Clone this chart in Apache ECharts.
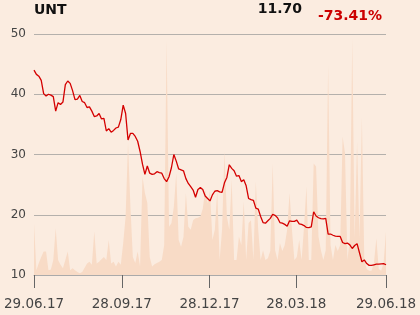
<!DOCTYPE html>
<html>
<head>
<meta charset="utf-8">
<script src="https://cdn.jsdelivr.net/npm/echarts@6/dist/echarts.min.js"></script>
<style>
html,body{margin:0;padding:0;background:#fbece0;}
#c{width:420px;height:315px;}
</style>
</head>
<body>
<div id="c"></div>
<script>
// Sampling: one observation every 2.5 days from 29.06.17 to 29.06.18
const startDate = '2017-06-29';
const stepDays = 2.5;

const price = [
44.0,43.3,43.0,42.3,40.1,39.7,40.0,39.85,39.6,37.2,
38.6,38.3,38.7,41.6,42.2,41.8,40.6,39.1,39.2,39.8,
38.8,38.6,37.8,37.9,37.2,36.3,36.4,36.8,35.9,36.0,
33.9,34.3,33.7,34.0,34.4,34.55,35.8,38.2,36.8,32.4,
33.5,33.5,33.0,32.2,30.5,28.4,26.7,28.1,26.9,26.7,
26.8,27.15,27.0,26.9,26.0,25.5,26.3,27.8,30.0,28.9,
27.6,27.45,27.3,26.0,25.2,24.65,24.1,22.9,24.2,24.5,
24.2,23.1,22.7,22.3,23.3,23.9,24.0,23.8,23.7,25.3,
26.2,28.3,27.7,27.3,26.4,26.5,25.5,25.8,24.8,22.7,
22.5,22.4,21.1,20.95,19.7,18.7,18.6,19.0,19.4,20.05,
19.9,19.5,18.7,18.6,18.4,18.1,19.0,18.9,18.9,19.1,
18.5,18.4,18.2,17.9,17.85,18.0,20.5,19.8,19.5,19.35,
19.3,19.4,16.8,16.8,16.6,16.45,16.4,16.4,15.4,15.2,
15.3,15.0,14.4,14.9,15.2,13.7,12.2,12.5,11.9,11.6,
11.6,11.7,11.8,11.8,11.85,11.9,11.7
];

const volume = [
8.6,0.8,2.0,3.0,3.9,3.9,0.8,0.9,2.5,7.75,
2.5,1.7,1.1,2.5,3.9,0.8,1.1,0.8,0.5,0.3,
0.5,1.2,1.9,2.2,1.7,7.2,1.9,2.2,2.6,3.0,
2.5,5.8,1.9,2.2,1.4,2.2,1.7,5.3,9.7,21.9,
11.3,3.0,2.0,3.9,1.4,16.3,13.6,12.0,3.0,1.4,
1.8,2.0,2.2,2.5,5.0,38.9,8.0,8.6,11.3,16.9,
5.8,4.7,6.3,13.6,8.0,7.5,9.1,9.4,9.5,9.7,
11.0,14.1,11.9,14.0,5.8,7.5,14.0,2.5,7.5,20.5,
9.7,7.5,15.8,2.5,2.5,6.4,5.0,12.2,2.5,8.6,
9.1,2.5,15.5,7.5,2.5,4.1,2.5,2.8,4.0,18.5,
4.1,2.5,5.3,4.0,5.0,7.5,13.6,7.5,2.5,3.0,
5.8,2.5,8.0,14.7,2.5,2.5,18.5,18.0,6.4,4.1,
2.5,4.1,34.9,5.0,2.5,5.0,4.0,5.0,23.0,20.2,
2.5,6.0,39.3,6.0,22.1,6.0,26.2,2.5,1.0,0.7,
0.7,2.0,6.1,1.0,0.7,2.0,7.2
];

const tickDates = ['2017-06-29','2017-09-28','2017-12-28','2018-03-28','2018-06-29'];
const ticker = 'UNT';
const lastPrice = '11.70';
const change = '-73.41%';

const DAY = 86400000;
const t0 = Date.parse(startDate + 'T00:00:00Z');
const xs = price.map((_, i) => t0 + i * stepDays * DAY);
const tickMs = tickDates.map(d => Date.parse(d + 'T00:00:00Z'));
const pad = n => (n < 10 ? '0' : '') + n;
const fmt = v => { const d = new Date(v); return pad(d.getUTCDate()) + '.' + pad(d.getUTCMonth() + 1) + '.' + pad(d.getUTCFullYear() % 100); };

const chart = echarts.init(document.getElementById('c'), null, {renderer: 'canvas'});
chart.setOption({
  backgroundColor: '#fbece0',
  animation: false,
  textStyle: {fontFamily: 'DejaVu Sans'},
  title: [
    {text: ticker, left: 34, top: 3, padding: 0, textStyle: {fontSize: 14, fontWeight: 'bold', color: '#111', fontFamily: 'DejaVu Sans'}},
    {text: lastPrice, right: 118, top: 2, padding: 0, textStyle: {fontSize: 14, fontWeight: 'bold', color: '#111', fontFamily: 'DejaVu Sans'}},
    {text: change, right: 38, top: 9, padding: 0, textStyle: {fontSize: 14, fontWeight: 'bold', color: '#cc0000', fontFamily: 'DejaVu Sans'}}
  ],
  grid: {left: 34, right: 34, top: 34, bottom: 40},
  xAxis: {
    type: 'value',
    min: tickMs[0],
    max: tickMs[tickMs.length - 1],
    axisLine: {show: true, lineStyle: {color: '#aaaaaa', width: 1}},
    axisTick: {show: true, customValues: tickMs, length: 13, lineStyle: {color: '#666666', width: 1}},
    axisLabel: {customValues: tickMs, formatter: fmt, color: '#444444', fontSize: 13.5, margin: 22, fontFamily: 'DejaVu Sans'},
    splitLine: {show: false}
  },
  yAxis: [
    {
      type: 'value', min: 10, max: 50, interval: 10,
      axisLine: {show: false}, axisTick: {show: false},
      axisLabel: {color: '#444444', fontSize: 12, margin: 8, fontFamily: 'DejaVu Sans'},
      splitLine: {show: true, lineStyle: {color: '#b4b0ac', width: 1}}
    },
    {type: 'value', min: 0, max: 40, show: false, splitLine: {show: false}}
  ],
  series: [
    {
      type: 'line', yAxisIndex: 1, symbol: 'none', z: 1,
      data: xs.map((x, i) => [x, volume[i]]),
      lineStyle: {width: 0},
      areaStyle: {color: '#f8dbc6', opacity: 1},
      silent: true
    },
    {
      type: 'line', yAxisIndex: 0, symbol: 'none', z: 3,
      data: xs.map((x, i) => [x, price[i]]),
      lineStyle: {color: '#d40000', width: 1.3}
    }
  ]
});
</script>
</body>
</html>
